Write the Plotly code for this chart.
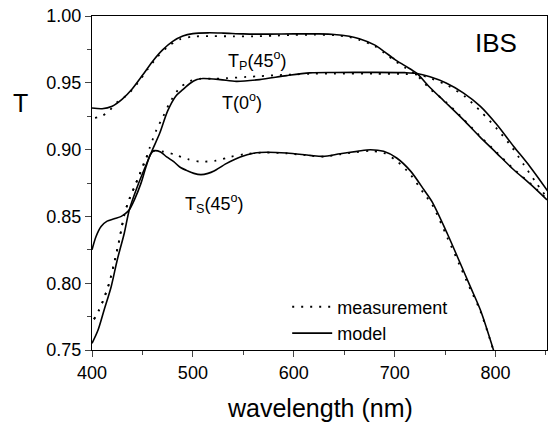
import plotly.graph_objects as go

# ---------------- data (wavelength in nm, transmittance T) ----------------
tp_model_wl = [400, 410, 420, 430, 440, 450, 460, 470, 480, 490, 500, 515, 530, 550, 575, 600, 625, 640,
               655, 665, 680, 690, 700, 710, 722, 735, 751, 768, 784, 801, 818, 834, 851]
tp_model_T = [0.9312, 0.9306, 0.9325, 0.9378, 0.9456, 0.9556, 0.9660, 0.9746, 0.9810, 0.9850, 0.9868, 0.9874,
              0.9872, 0.9866, 0.9864, 0.9866, 0.9866, 0.9862, 0.9848, 0.9830, 0.9784, 0.9732, 0.9676, 0.9628,
              0.9570, 0.9465, 0.9349, 0.9224, 0.9099, 0.8974, 0.8849, 0.8745, 0.8624]

tp_meas_wl = [403, 410, 417, 425, 435, 445, 455, 465, 475, 487, 500, 520, 540, 560, 580, 600, 620, 640,
              655, 665, 680, 690, 700, 710, 722, 735, 751, 768, 784, 801, 818, 834, 851]
tp_meas_T = [0.9238, 0.9252, 0.9290, 0.9355, 0.9410, 0.9495, 0.9600, 0.9695, 0.9770, 0.9825, 0.9846, 0.9849,
             0.9848, 0.9848, 0.9853, 0.9858, 0.9860, 0.9857, 0.9842, 0.9822, 0.9776, 0.9722, 0.9665, 0.9615,
             0.9555, 0.9455, 0.9355, 0.9230, 0.9105, 0.8980, 0.8855, 0.8750, 0.8630]

t0_model_wl = [400, 406, 412, 419, 425, 432, 437, 445, 453, 460, 467, 475, 483, 490, 497, 504, 510, 527, 543,
               566, 593, 616, 640, 680, 710, 722, 735, 751, 768, 785, 801, 818, 834, 852]
t0_model_T = [0.755, 0.765, 0.780, 0.7974, 0.8174, 0.8374, 0.8550, 0.8724, 0.8874, 0.9000, 0.9120, 0.9290,
              0.9400, 0.9449, 0.9495, 0.9524, 0.9532, 0.9524, 0.9511, 0.9524, 0.9554, 0.9574, 0.9577, 0.9578,
              0.9576, 0.9570, 0.9545, 0.9499, 0.9425, 0.9324, 0.9190, 0.9024, 0.8874, 0.8687]

t0_meas_wl = [402, 407, 411, 417, 421.5, 425.5, 429, 432, 436, 442, 447, 452, 457, 464, 470.6, 477, 487, 497,
              507, 520, 533, 553, 566, 583, 600, 616, 640, 680, 710, 725, 737, 753, 770, 786, 802, 816, 828,
              840, 851]
t0_meas_T = [0.7730, 0.7800, 0.7870, 0.8000, 0.8137, 0.8269, 0.8400, 0.8510, 0.8610, 0.8720, 0.8810, 0.8900,
             0.9010, 0.9149, 0.9249, 0.9350, 0.9462, 0.9512, 0.9530, 0.9530, 0.9534, 0.9544, 0.9549, 0.9557,
             0.9562, 0.9568, 0.9568, 0.9568, 0.9566, 0.9558, 0.9530, 0.9478, 0.9395, 0.9280, 0.9150, 0.9020,
             0.8887, 0.8754, 0.8640]

ts_model_wl = [400, 404, 409, 415, 422, 429, 433, 437, 442, 448.6, 453.6, 458, 461, 468, 474, 481, 487, 495,
               501, 508, 515, 521, 533, 547, 560, 573, 593, 616, 629, 646, 663, 676, 689, 702, 716, 729, 737,
               752, 765, 775, 785, 798]
ts_model_T = [0.825, 0.835, 0.8425, 0.8465, 0.8482, 0.8500, 0.8520, 0.8550, 0.8624, 0.8749, 0.8874, 0.8965,
              0.8990, 0.8982, 0.8945, 0.8910, 0.8870, 0.8840, 0.8822, 0.8813, 0.8822, 0.8840, 0.8895, 0.8945,
              0.8973, 0.8980, 0.8974, 0.8957, 0.8949, 0.8969, 0.8987, 0.8999, 0.8987, 0.8937, 0.8837, 0.8699,
              0.8610, 0.8374, 0.8149, 0.7974, 0.7799, 0.7499]

ts_meas_wl = [402, 407, 411, 417, 421.5, 425.5, 429, 432, 436, 442, 447, 452, 456, 461, 471, 483, 495, 507,
              523, 537, 551, 571, 593, 616, 629, 646, 663, 676, 689, 702, 716, 729, 737, 752, 765, 775, 785, 798]
ts_meas_T = [0.7730, 0.7800, 0.7870, 0.8000, 0.8137, 0.8269, 0.8400, 0.8510, 0.8610, 0.8720, 0.8810, 0.8910,
             0.8965, 0.8990, 0.8985, 0.8960, 0.8928, 0.8910, 0.8918, 0.8945, 0.8965, 0.8978, 0.8972, 0.8955,
             0.8948, 0.8965, 0.8982, 0.8990, 0.8975, 0.8915, 0.8810, 0.8670, 0.8590, 0.8345, 0.8125, 0.7955,
             0.7790, 0.7495]

x_ticks = [400, 500, 600, 700, 800]
y_ticks = [0.75, 0.80, 0.85, 0.90, 0.95, 1.00]

FONT = "Arial, Liberation Sans, sans-serif"
DOT = "2px,7px"

fig = go.Figure()

meas_sets = [(tp_meas_wl, tp_meas_T), (t0_meas_wl, t0_meas_T), (ts_meas_wl, ts_meas_T)]
model_sets = [(tp_model_wl, tp_model_T), (t0_model_wl, t0_model_T), (ts_model_wl, ts_model_T)]

for i, (wl, T) in enumerate(meas_sets):
    fig.add_trace(go.Scatter(x=wl, y=T, mode="lines", name="measurement",
                             legendgroup="meas", showlegend=(i == 0),
                             line=dict(color="black", width=1.8, dash=DOT, shape="spline", smoothing=0.8)))
for i, (wl, T) in enumerate(model_sets):
    fig.add_trace(go.Scatter(x=wl, y=T, mode="lines", name="model",
                             legendgroup="model", showlegend=(i == 0),
                             line=dict(color="black", width=1.6, shape="spline", smoothing=0.8)))

fig.update_layout(
    width=548, height=429,
    margin=dict(l=92, r=1, t=16, b=79),
    paper_bgcolor="white", plot_bgcolor="white",
    font=dict(family=FONT, size=18, color="black"),
    showlegend=True,
    legend=dict(x=0.429, y=0.184, xanchor="left", yanchor="top",
                bgcolor="rgba(0,0,0,0)", font=dict(size=18, family=FONT),
                tracegroupgap=0, itemwidth=40),
    xaxis=dict(range=[400, 851], tickvals=x_ticks, ticks="outside", ticklen=6, tickwidth=1.2,
               showline=True, linecolor="black", linewidth=1.3, mirror=True, showgrid=False,
               zeroline=False, tickfont=dict(size=18),
               minor=dict(dtick=50, tick0=400, ticks="outside", ticklen=4, tickwidth=1.2, showgrid=False)),
    yaxis=dict(range=[0.75, 1.0], tickvals=y_ticks, tickformat=".2f", ticks="outside", ticklen=6,
               tickwidth=1.2, showline=True, linecolor="black", linewidth=1.3, mirror=True,
               showgrid=False, zeroline=False, tickfont=dict(size=18),
               minor=dict(dtick=0.025, tick0=0.75, ticks="outside", ticklen=4, tickwidth=1.2, showgrid=False)),
)

annotations = [
    dict(text="IBS", x=800, y=0.980, xref="x", yref="y", showarrow=False, font=dict(size=26)),
    dict(text="T<sub>P</sub>(45<sup>o</sup>)", x=564, y=0.967, xref="x", yref="y", showarrow=False,
         font=dict(size=18)),
    dict(text="T(0<sup>o</sup>)", x=549, y=0.936, xref="x", yref="y", showarrow=False, font=dict(size=18)),
    dict(text="T<sub>S</sub>(45<sup>o</sup>)", x=521, y=0.860, xref="x", yref="y", showarrow=False,
         font=dict(size=18)),
    dict(text="wavelength (nm)", x=0.5, y=0, xref="paper", yref="paper", yshift=-58, showarrow=False,
         xanchor="center", yanchor="middle", font=dict(size=25)),
    dict(text="T", x=0, y=0.935, xref="paper", yref="y", xshift=-71.5, showarrow=False,
         xanchor="center", yanchor="middle", font=dict(size=25)),
]
fig.update_layout(annotations=annotations)

fig.write_html("out.html", config={"displayModeBar": False},
               post_script="document.body.style.margin='0';document.body.style.padding='0';")
